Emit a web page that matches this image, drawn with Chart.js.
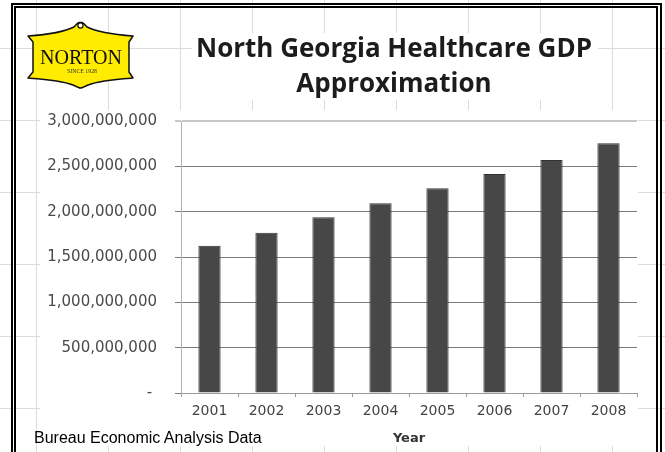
<!DOCTYPE html>
<html>
<head>
<meta charset="utf-8">
<script src="https://cdn.jsdelivr.net/npm/chart.js@4.4.1/dist/chart.umd.min.js"></script>
<style>
  html, body { margin: 0; padding: 0; background: #fff; }
  body { width: 665px; height: 452px; overflow: hidden; position: relative; }
  /* spreadsheet cell grid */
  .sheet {
    position: absolute; left: 0; top: 0; width: 665px; height: 452px;
    background-color: #fff;
    background-image:
      linear-gradient(to right, #dcdcdc 1px, transparent 1px),
      linear-gradient(to bottom, #dcdcdc 1px, transparent 1px);
    background-size: 72px 72px;
    background-position: 36px 48px;
  }
  .frame-outer { position: absolute; left: 11px; top: 3px; width: 647px; height: 480px; border: 2px solid #000; }
  .frame-inner { position: absolute; left: 14px; top: 6px; width: 640px; height: 480px; border: 2px solid #000; }
  #chart { position: absolute; left: 0; top: 0; }
  .logo { position: absolute; left: 0; top: 0; }
  .source {
    position: absolute; left: 34px; top: 429px;
    font: 16px/18px "Liberation Sans", Arial, sans-serif; color: #000; white-space: nowrap;
  }
</style>
</head>
<body>
<div class="sheet"></div>
<div class="frame-outer"></div>
<div class="frame-inner"></div>
<canvas id="chart" width="665" height="452"></canvas>

<svg class="logo" width="160" height="100" viewBox="0 0 160 100">
  <path d="M28,36 C42,35 62,33 74,27 C76,25 77,23 79,22.5 L82,22.5 C84,23 85,25 87,27
           C99,33 120,35 133,36 L129,42 L129,72 L133,78
           C118,79 100,80 88,85 C85,86.5 82,88 80.5,88 C79,88 76,86.5 73,85
           C61,80 43,79 28,78 L33,72 L33,42 Z"
        fill="#ffec00" stroke="#111" stroke-width="1.5" stroke-linejoin="round"/>
  <circle cx="80.5" cy="25.5" r="2.6" fill="#fff" stroke="#111" stroke-width="1.2"/>
  <text x="81" y="64" text-anchor="middle" font-family="Liberation Serif, serif" font-size="22"
        textLength="82" lengthAdjust="spacingAndGlyphs" fill="#111">NORTON</text>
  <text x="82" y="72.5" text-anchor="middle" font-family="Liberation Serif, serif" font-size="6"
        textLength="30" lengthAdjust="spacingAndGlyphs" fill="#333">SINCE 1928</text>
</svg>

<div class="source">Bureau Economic Analysis Data</div>

<script>
// Annual values, in dollars
const years = ['2001', '2002', '2003', '2004', '2005', '2006', '2007', '2008'];
const gdpValues = [1625000000, 1768000000, 1938000000, 2092000000, 2257000000, 2415000000, 2570000000, 2754000000];
const yTickValues = [0, 500000000, 1000000000, 1500000000, 2000000000, 2500000000, 3000000000];
const titleLines = ['North Georgia Healthcare GDP', 'Approximation'];
const xAxisLabel = 'Year';

// White panels that sit under the heading and the plot
const backdrop = {
  id: 'backdrop',
  beforeDraw(chart) {
    const { ctx, chartArea } = chart;
    ctx.save();
    ctx.fillStyle = '#ffffff';
    ctx.fillRect(40, chartArea.top - 11, chartArea.right + 1 - 40, 446 - (chartArea.top - 11));
    ctx.fillRect(192, 33, 406, 67);
    ctx.restore();
  }
};

// Two-line heading above the plot
const heading = {
  id: 'heading',
  afterDraw(chart) {
    const ctx = chart.ctx;
    ctx.save();
    ctx.font = 'bold 26px "Open Sans"';
    ctx.fillStyle = '#1c1c1c';
    ctx.textAlign = 'center';
    ctx.textBaseline = 'alphabetic';
    titleLines.forEach((line, i) => ctx.fillText(line, 394, 57 + i * 35));
    ctx.restore();
  }
};

new Chart(document.getElementById('chart'), {
  type: 'bar',
  data: {
    labels: years,
    datasets: [{
      data: gdpValues,
      backgroundColor: '#474747',
      borderColor: '#333333',
      borderWidth: 1,
      barPercentage: 0.39,
      categoryPercentage: 1
    }]
  },
  options: {
    responsive: false,
    animation: false,
    devicePixelRatio: 1,
    layout: { padding: { left: 40, right: 28, top: 121, bottom: 0 } },
    plugins: {
      legend: { display: false },
      title: { display: false },
      tooltip: { enabled: false }
    },
    scales: {
      x: {
        afterFit(scale) { scale.height = 59; },
        grid: { display: true, drawOnChartArea: false, offset: true, tickLength: 4, color: '#9a9a9a' },
        border: { color: '#9a9a9a', width: 1 },
        ticks: { color: '#444', padding: 6, font: { family: '"DejaVu Sans"', size: 14 } },
        title: {
          display: true, text: xAxisLabel, color: '#333',
          font: { family: '"DejaVu Sans"', size: 13, weight: 'bold' },
          padding: { top: 0, bottom: 6 }
        }
      },
      y: {
        min: 0,
        max: 3000000000,
        afterFit(scale) { scale.width = 141; },
        afterBuildTicks(scale) { scale.ticks = yTickValues.map(v => ({ value: v })); },
        grid: {
          tickLength: 6,
          color: (c) => (c.tick && c.tick.value === 3000000000) ? '#c8c8c8' : '#7a7a7a',
          lineWidth: (c) => (c.tick && c.tick.value === 3000000000) ? 2 : 1
        },
        border: { color: '#b5b5b5', width: 1 },
        ticks: {
          color: '#4a4a4a',
          padding: 18,
          font: { family: '"DejaVu Sans"', size: 15 },
          callback: (v) => v === 0 ? '- ' : Number(v).toLocaleString('en-US')
        }
      }
    }
  },
  plugins: [backdrop, heading]
});
</script>
</body>
</html>
